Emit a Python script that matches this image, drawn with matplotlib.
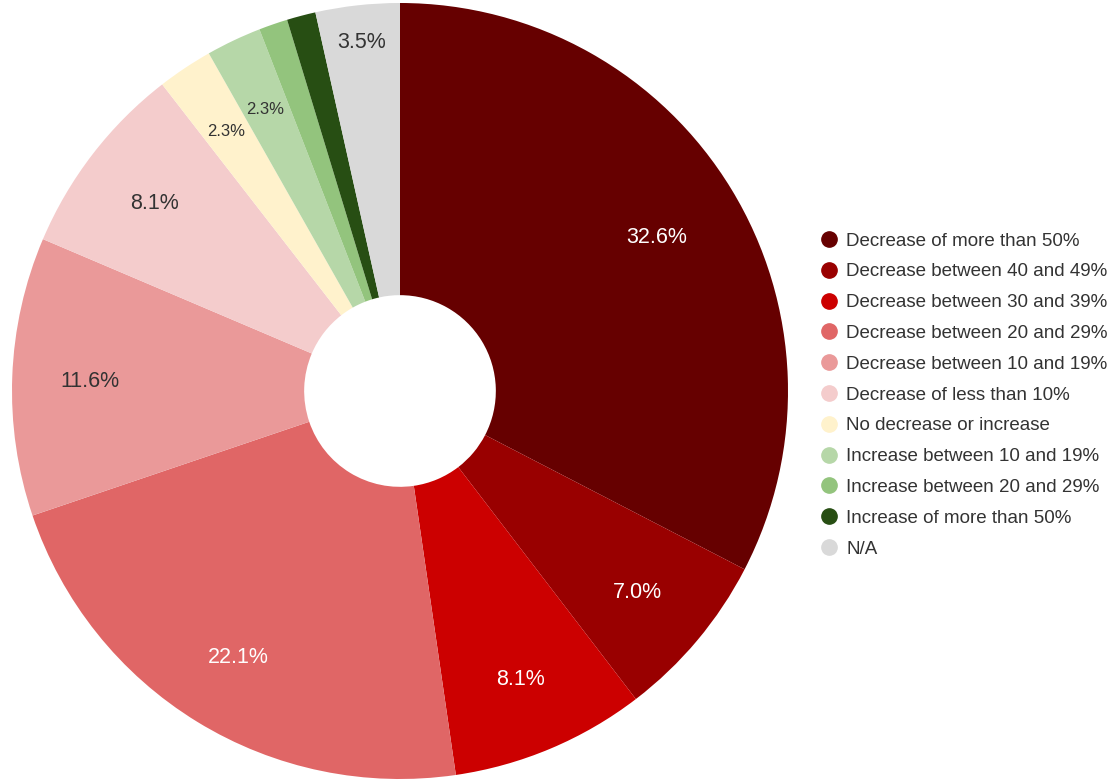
import matplotlib
matplotlib.use("Agg")
import matplotlib.pyplot as plt
from matplotlib.lines import Line2D
import numpy as np

plt.rcParams['font.family'] = ['Liberation Sans', 'DejaVu Sans']

categories = [
    "Decrease of more than 50%",
    "Decrease between 40 and 49%",
    "Decrease between 30 and 39%",
    "Decrease between 20 and 29%",
    "Decrease between 10 and 19%",
    "Decrease of less than 10%",
    "No decrease or increase",
    "Increase between 10 and 19%",
    "Increase between 20 and 29%",
    "Increase of more than 50%",
    "N/A",
]
values = [32.6, 7.0, 8.1, 22.1, 11.6, 8.1, 2.3, 2.3, 1.2, 1.2, 3.5]
colors = ["#660000", "#990000", "#cc0000", "#e06666", "#ea9999", "#f4cccc",
          "#fff2cc", "#b6d7a8", "#93c47d", "#274e13", "#d9d9d9"]
label_colors = ["white", "white", "white", "white", "#333333", "#333333",
                "#333333", "#333333", "#333333", "white", "#333333"]

fig = plt.figure(figsize=(11.13, 7.81), dpi=100)
R = 388
cx, cy = 400, 391
W, H = 1113, 781
ax = fig.add_axes([(cx - R) / W, (H - cy - R) / H, 2 * R / W, 2 * R / H])

wedges, _ = ax.pie(values, colors=colors, startangle=90, counterclock=False,
                   radius=1.0, wedgeprops=dict(width=0.753, linewidth=0))
ax.set_xlim(-1, 1)
ax.set_ylim(-1, 1)
ax.set_aspect('equal')
ax.axis('off')

for w, v, tc in zip(wedges, values, label_colors):
    if v < 2:
        continue
    ang = np.deg2rad((w.theta1 + w.theta2) / 2)
    if v < 3:
        r, fs = 0.81, 12
    elif v < 5:
        r, fs = 0.91, 15.5
    elif v > 30:
        r, fs = 0.775, 15.5
    else:
        r, fs = 0.8, 15.5
    ax.text(r * np.cos(ang), r * np.sin(ang) - 0.006, f"{v:.1f}%", ha='center', va='center',
            color=tc, fontsize=fs)

handles = [Line2D([0], [0], marker='o', linestyle='none', markersize=11,
                  markerfacecolor=c, markeredgecolor=c) for c in colors]
fig.legend(handles, categories, loc='center left', bbox_to_anchor=(818 / W, 1 - 395 / H),
           frameon=False, fontsize=13.5, labelcolor='#333333', handletextpad=0.3,
           labelspacing=0.73, handlelength=1.2, borderaxespad=0, borderpad=0)

fig.savefig("out.png", dpi=100)
